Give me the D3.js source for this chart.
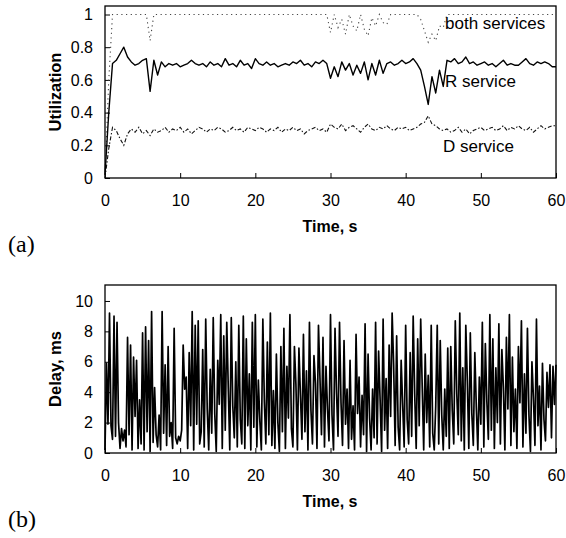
<!DOCTYPE html>
<html>
<head>
<meta charset="utf-8">
<script src="https://cdn.jsdelivr.net/npm/d3@7"></script>
<style>
  body { margin: 0; background: #fff; }
  text { font-family: "Liberation Sans", Arial, sans-serif; fill: #000; }
</style>
</head>
<body>
<svg id="chart" width="566" height="538"></svg>
<script>
// Panel (a): utilization, sampled every 0.5 s from 0 to 60 s
const utilStep = 0.5;
const rService = [
  0.02, 0.40, 0.70, 0.72, 0.76, 0.80, 0.74, 0.71, 0.69, 0.70,
  0.72, 0.73, 0.53, 0.72, 0.63, 0.71, 0.68, 0.70, 0.69, 0.70,
  0.68, 0.69, 0.70, 0.72, 0.70, 0.69, 0.70, 0.68, 0.71, 0.69,
  0.70, 0.68, 0.73, 0.69, 0.70, 0.68, 0.72, 0.69, 0.70, 0.67,
  0.73, 0.70, 0.69, 0.71, 0.69, 0.70, 0.68, 0.69, 0.70, 0.69,
  0.71, 0.70, 0.72, 0.69, 0.70, 0.68, 0.71, 0.70, 0.72, 0.70,
  0.61, 0.68, 0.62, 0.71, 0.66, 0.70, 0.63, 0.69, 0.64, 0.71,
  0.60, 0.70, 0.63, 0.72, 0.64, 0.70, 0.71, 0.69, 0.70, 0.72,
  0.70, 0.71, 0.73, 0.70, 0.66, 0.56, 0.45, 0.62, 0.52, 0.66,
  0.56, 0.72, 0.71, 0.73, 0.70, 0.71, 0.74, 0.70, 0.71, 0.69,
  0.70, 0.71, 0.69, 0.70, 0.68, 0.70, 0.72, 0.69, 0.70, 0.69,
  0.69, 0.71, 0.73, 0.70, 0.69, 0.71, 0.70, 0.71, 0.70, 0.68,
  0.68
];
const dService = [
  0.00, 0.18, 0.31, 0.29, 0.24, 0.20, 0.27, 0.30, 0.28, 0.31,
  0.27, 0.29, 0.26, 0.30, 0.28, 0.29, 0.31, 0.28, 0.30, 0.29,
  0.31, 0.28, 0.30, 0.27, 0.29, 0.31, 0.30, 0.28, 0.30, 0.29,
  0.31, 0.30, 0.28, 0.29, 0.31, 0.29, 0.30, 0.28, 0.31, 0.30,
  0.29, 0.31, 0.30, 0.28, 0.30, 0.29, 0.31, 0.28, 0.30, 0.29,
  0.31, 0.29, 0.30, 0.27, 0.29, 0.30, 0.31, 0.29, 0.30, 0.28,
  0.33, 0.31, 0.30, 0.33, 0.29, 0.31, 0.32, 0.30, 0.28, 0.31,
  0.33, 0.30, 0.29, 0.31, 0.30, 0.32, 0.30, 0.29, 0.31, 0.30,
  0.31, 0.29, 0.30, 0.31, 0.33, 0.34, 0.38, 0.33, 0.32, 0.30,
  0.29, 0.30, 0.28, 0.29, 0.31, 0.28, 0.30, 0.27, 0.29, 0.30,
  0.31, 0.29, 0.30, 0.31, 0.29, 0.30, 0.32, 0.29, 0.31, 0.30,
  0.32, 0.30, 0.29, 0.31, 0.28, 0.30, 0.32, 0.30, 0.31, 0.32,
  0.32
];
const bothServices = [
  0.02, 0.60, 1, 1, 1, 1, 1, 1, 1, 1,
  1, 1, 0.84, 1, 1, 1, 1, 1, 1, 1,
  1, 1, 1, 1, 1, 1, 1, 1, 1, 1,
  1, 1, 1, 1, 1, 1, 1, 1, 1, 1,
  1, 1, 1, 1, 1, 1, 1, 1, 1, 1,
  1, 1, 1, 1, 1, 1, 1, 1, 1, 1,
  0.89, 1, 0.92, 0.97, 0.88, 1, 0.93, 0.90, 1, 0.91,
  0.87, 0.98, 0.93, 1, 0.95, 0.94, 1, 1, 1, 1,
  1, 1, 1, 1, 0.97, 0.90, 0.83, 0.88, 0.84, 0.93,
  0.92, 1, 1, 1, 1, 1, 1, 1, 1, 1,
  1, 1, 1, 1, 1, 1, 1, 1, 1, 1,
  1, 1, 1, 1, 1, 1, 1, 1, 1, 1,
  1
];

// Panel (b): delay in ms, sampled every 0.2 s
const delayStep = 0.2;
const delay = [
  0.2, 5.9, 1.9, 9.2, 1.8, 0.9, 9.0, 1.1, 8.6, 2.0, 0.3, 1.6, 0.8, 1.5, 0.4, 7.6, 1.2, 7.1, 0.2, 6.3,
  2.4, 6.1, 0.3, 3.5, 0.6, 7.9, 0.2, 8.3, 1.4, 7.4, 0.1, 9.3, 0.7, 4.3, 1.2, 0.4, 2.5, 0.2, 9.3, 1.3,
  5.8, 0.5, 7.0, 1.1, 2.0, 0.3, 8.2, 1.0, 0.6, 1.1, 0.8, 1.5, 7.1, 4.2, 5.0, 0.3, 6.6, 1.8, 9.3, 0.2,
  8.4, 1.9, 8.7, 0.6, 1.4, 6.8, 0.4, 8.8, 2.9, 0.2, 5.5, 1.3, 8.9, 2.6, 0.1, 6.1, 3.2, 9.1, 0.3, 7.7,
  1.5, 8.6, 4.3, 0.2, 8.9, 3.1, 1.0, 6.0, 0.4, 8.4, 2.2, 0.6, 9.0, 0.3, 7.5, 1.8, 5.2, 0.2, 8.6, 1.7,
  9.1, 0.4, 4.8, 2.1, 0.2, 8.8, 3.4, 0.6, 7.3, 1.2, 9.2, 0.5, 4.1, 0.3, 6.5, 2.0, 0.1, 7.0, 1.4, 8.2,
  0.3, 5.7, 2.3, 9.1, 1.6, 0.4, 7.0, 4.5, 0.2, 6.9, 3.8, 0.9, 7.8, 1.4, 5.4, 0.2, 8.6, 2.8, 0.6, 6.4,
  4.6, 0.3, 8.4, 4.9, 1.2, 7.6, 0.4, 5.7, 2.9, 0.8, 9.1, 2.5, 0.2, 8.2, 4.0, 1.1, 8.6, 3.3, 0.5, 7.4,
  1.9, 4.2, 0.3, 6.1, 0.9, 3.1, 0.2, 7.8, 2.6, 5.0, 0.4, 3.8, 1.2, 8.5, 0.1, 6.5, 2.3, 0.2, 4.2, 1.0,
  8.6, 0.6, 6.7, 3.5, 0.1, 8.8, 1.5, 4.9, 0.3, 7.1, 2.4, 9.2, 5.8, 0.5, 7.7, 1.7, 0.2, 6.1, 3.2, 0.4,
  8.4, 2.2, 0.6, 6.6, 1.1, 9.0, 3.9, 0.3, 7.5, 1.8, 8.8, 4.4, 0.2, 6.5, 2.0, 5.1, 0.4, 8.4, 1.3, 0.2,
  3.1, 8.4, 0.6, 7.4, 2.5, 0.2, 4.2, 1.1, 6.9, 0.3, 7.0, 2.8, 0.6, 8.7, 3.9, 1.2, 9.2, 0.8, 5.6, 0.2,
  8.4, 4.8, 0.3, 7.9, 2.6, 0.5, 6.6, 3.0, 0.2, 5.0, 1.9, 8.6, 0.4, 7.2, 3.4, 0.9, 9.1, 1.5, 7.5, 0.3,
  5.6, 2.0, 8.5, 0.6, 6.8, 4.3, 0.2, 7.6, 2.9, 9.1, 0.5, 6.3, 1.4, 4.2, 0.3, 7.0, 3.3, 8.7, 0.4, 5.2,
  1.3, 8.2, 2.5, 0.1, 6.0, 3.6, 0.5, 8.8, 1.8, 4.4, 0.2, 5.9, 2.2, 0.8, 5.3, 3.0, 5.8, 1.0, 5.7, 3.2,
  5.8
];

const timeTicks = [0, 10, 20, 30, 40, 50, 60];
const utilTicks = [0, 0.2, 0.4, 0.6, 0.8, 1];
const delayTicks = [0, 2, 4, 6, 8, 10];

const svg = d3.select("#chart");
const left = 105, right = 556;

// draws one framed panel with inward ticks, returns scales
function panel(top, bottom, yMax, yTicks, yFmt, yTitle, tag) {
  const x = d3.scaleLinear().domain([0, 60]).range([left, right]);
  const y = d3.scaleLinear().domain([0, yMax]).range([bottom, top]);
  const g = svg.append("g");

  const xa = g.append("g").attr("transform", `translate(0,${bottom})`)
    .call(d3.axisBottom(x).tickValues(timeTicks).tickSize(-5).tickPadding(17).tickFormat(d3.format("d")));
  const ya = g.append("g").attr("transform", `translate(${left},0)`)
    .call(d3.axisLeft(y).tickValues(yTicks).tickSize(-5).tickPadding(12).tickFormat(yFmt));
  [xa, ya].forEach(a => {
    a.select(".domain").remove();
    a.selectAll("text").attr("font-size", 16).attr("font-family", "Liberation Sans, Arial, sans-serif");
    a.selectAll("line").attr("stroke", "#000").attr("stroke-width", 1);
  });

  g.append("rect").attr("x", left).attr("y", top)
    .attr("width", right - left).attr("height", bottom - top)
    .attr("fill", "none").attr("stroke", "#000").attr("stroke-width", 1.3);

  g.append("text").attr("x", 330).attr("y", bottom + 54)
    .attr("text-anchor", "middle").attr("font-size", 16).attr("font-weight", "bold")
    .text("Time, s");
  g.append("text")
    .attr("transform", `translate(61,${(top + bottom) / 2}) rotate(-90)`)
    .attr("text-anchor", "middle").attr("font-size", 16.5).attr("font-weight", "bold")
    .text(yTitle);
  g.append("text").attr("x", 8).attr("y", bottom + 74)
    .attr("font-size", 24).style("font-family", "'Liberation Serif', 'Times New Roman', serif")
    .text(tag);
  return { x, y, g };
}

// (a)
const a = panel(6, 178, 1.052, utilTicks, d => d === 0 || d === 1 ? d3.format("d")(d) : d3.format(".1f")(d), "Utilization", "(a)");
const lineA = d3.line().x((d, i) => a.x(i * utilStep)).y(d => a.y(d));

a.g.append("path").datum(bothServices).attr("d", lineA)
  .attr("fill", "none").attr("stroke", "#444").attr("stroke-width", 1.1)
  .attr("stroke-dasharray", "1.2,3.5");
a.g.append("path").datum(dService).attr("d", lineA)
  .attr("fill", "none").attr("stroke", "#111").attr("stroke-width", 1.1)
  .attr("stroke-dasharray", "4,2,1.5,2");
a.g.append("path").datum(rService).attr("d", lineA)
  .attr("fill", "none").attr("stroke", "#000").attr("stroke-width", 1.4)
  .attr("stroke-linejoin", "round");

const seriesLabels = [
  { text: "both services", v: 0.91, x: 445 },
  { text: "R service", v: 0.555, x: 445 },
  { text: "D service", v: 0.16, x: 443 }
];
a.g.selectAll(".lab").data(seriesLabels).enter().append("text")
  .attr("x", d => d.x).attr("y", d => a.y(d.v))
  .attr("font-size", 17).text(d => d.text);

// (b)
const b = panel(285, 453, 11.05, delayTicks, d3.format("d"), "Delay, ms", "(b)");
const lineB = d3.line().x((d, i) => b.x(i * delayStep)).y(d => b.y(d));
b.g.append("path").datum(delay).attr("d", lineB)
  .attr("fill", "none").attr("stroke", "#000").attr("stroke-width", 1.7)
  .attr("stroke-linejoin", "round");
</script>
</body>
</html>
